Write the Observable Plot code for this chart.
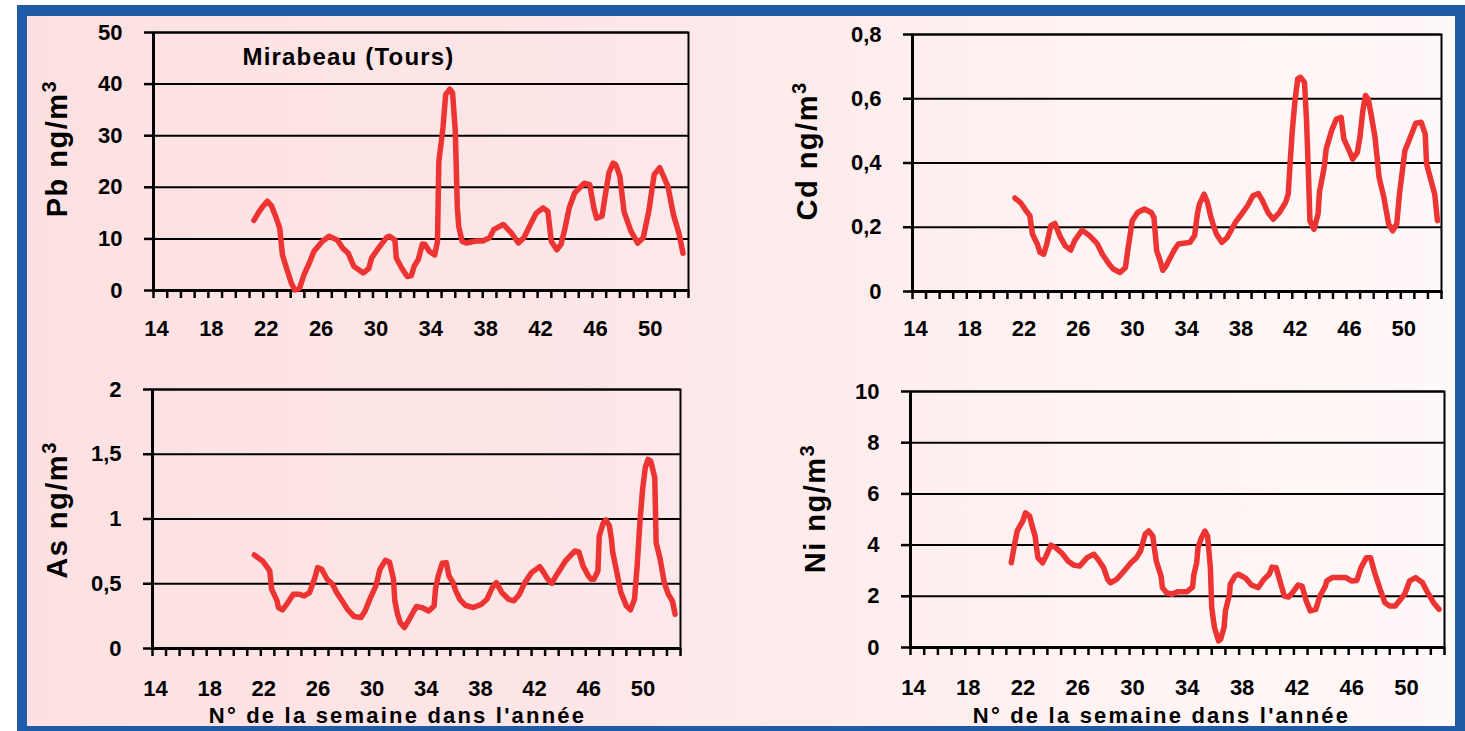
<!DOCTYPE html>
<html>
<head>
<meta charset="utf-8">
<script src="https://cdn.jsdelivr.net/npm/d3@7"></script>
<script src="https://cdn.jsdelivr.net/npm/@observablehq/plot@0.6"></script>
<style>
  html, body { margin: 0; padding: 0; background: #fff; overflow: hidden; }
  #page { position: relative; width: 1465px; height: 731px; overflow: hidden; background: #fff; }
  #frame { position: absolute; left: 17px; top: 5px; width: 1448px; height: 731px; box-sizing: border-box;
           border: 10px solid #1f5ba7; border-top-width: 11px;
           background: linear-gradient(to right, #fde1e2 0%, #fde6e7 40%, #fff3f3 75%, #fff8f8 100%); }
  .panel { position: absolute; }
</style>
</head>
<body>
<div id="page"><div id="frame"></div></div>
<script>
// ---------- data (week number, concentration) ----------
const weekTicks = [14, 18, 22, 26, 30, 34, 38, 42, 46, 50];

const pbWeeks = [21.32,21.7,21.97,22.3,22.6,22.9,23.2,23.4,23.7,24.05,
  24.3,24.65,24.96,25.4,25.7,26.3,26.8,27.4,27.8,28.2,
  28.6,29.3,29.7,29.9,30.4,31.0,31.2,31.6,31.7,32.1,
  32.5,32.8,33.0,33.3,33.6,33.8,34.1,34.5,34.7,34.8,
  35.1,35.3,35.6,35.8,36.0,36.15,36.25,36.5,36.8,37.5,
  38.0,38.5,38.8,39.5,40.1,40.6,41.0,41.4,41.9,42.4,
  42.75,43.0,43.4,43.7,44.0,44.3,44.7,45.4,45.8,46.1,
  46.3,46.7,46.9,47.2,47.5,47.7,48.0,48.3,48.8,49.3,
  49.7,50.1,50.5,50.9,51.5,51.9,52.3,52.6];
const pbValues = [13.6,15.3,16.3,17.3,16.4,14.4,12.1,6.9,4.3,1.4,
  0.1,0.45,3.0,5.6,7.6,9.5,10.5,9.8,8.2,7.2,
  4.7,3.4,4.3,6.3,8.2,10.3,10.5,9.8,6.3,4.3,
  2.7,2.9,4.7,6.0,9.0,8.9,7.6,6.9,9.5,25.0,
  31.5,38.0,39.0,38.3,30.9,16.0,12.4,9.5,9.2,9.6,
  9.6,10.2,11.8,12.8,11.1,9.2,10.2,12.4,15.0,16.0,
  15.3,9.5,7.9,8.9,12.1,16.0,18.9,20.8,20.5,16.0,
  14.0,14.4,17.9,22.8,24.7,24.4,22.1,15.3,11.5,9.2,
  10.2,15.3,22.5,23.8,20.2,14.7,11.1,7.2];

const cdWeeks = [21.55,21.96,22.38,22.65,22.84,23.2,23.4,23.67,23.9,24.2,
  24.5,24.85,25.26,25.67,25.95,26.5,27.05,27.6,28.0,28.5,
  28.8,29.3,29.7,29.9,30.2,30.6,31.1,31.6,31.8,32.0,
  32.3,32.45,32.7,32.95,33.3,33.6,34.45,34.8,35.0,35.15,
  35.5,35.75,36.0,36.4,36.8,37.2,37.8,38.3,38.7,39.1,
  39.5,39.8,40.2,40.6,41.05,41.5,41.7,41.85,42.0,42.2,
  42.4,42.6,42.9,43.05,43.2,43.3,43.6,43.9,44.0,44.35,
  44.5,44.9,45.25,45.6,45.8,46.2,46.45,46.8,47.0,47.2,
  47.4,47.6,47.85,48.1,48.4,48.75,49.1,49.4,49.7,49.9,
  50.3,50.7,51.1,51.5,51.8,51.9,52.5,52.7];
const cdValues = [0.291,0.277,0.251,0.236,0.179,0.148,0.122,0.116,0.148,0.205,
  0.212,0.174,0.142,0.129,0.158,0.191,0.174,0.150,0.116,0.085,
  0.070,0.059,0.075,0.137,0.220,0.246,0.257,0.246,0.231,0.127,
  0.090,0.066,0.080,0.101,0.129,0.148,0.153,0.174,0.241,0.272,
  0.303,0.277,0.231,0.179,0.153,0.168,0.215,0.243,0.267,0.298,
  0.305,0.283,0.246,0.225,0.246,0.277,0.303,0.407,0.501,0.594,
  0.662,0.667,0.651,0.532,0.355,0.220,0.194,0.241,0.309,0.386,
  0.444,0.501,0.537,0.542,0.475,0.438,0.412,0.433,0.485,0.563,
  0.610,0.599,0.542,0.480,0.355,0.293,0.210,0.189,0.210,0.303,
  0.438,0.480,0.524,0.527,0.490,0.397,0.303,0.220];

const asWeeks = [21.52,22.13,22.4,22.66,22.8,23.2,23.3,23.6,24.0,24.4,
  24.8,25.2,25.6,26.0,26.2,26.5,26.9,27.3,27.6,28.0,
  28.4,28.9,29.4,29.7,30.1,30.5,30.8,31.2,31.5,31.8,
  31.9,32.1,32.3,32.6,32.9,33.3,33.5,33.9,34.4,34.8,
  34.9,35.1,35.4,35.7,35.9,36.2,36.4,36.7,37.1,37.7,
  38.3,38.7,39.1,39.4,39.8,40.3,40.7,41.1,41.5,42.0,
  42.6,42.9,43.2,43.5,43.8,44.5,45.2,45.5,45.8,46.2,
  46.4,46.6,46.9,47.0,47.3,47.5,47.75,47.9,48.0,48.4,
  48.6,49.0,49.3,49.6,49.8,50.0,50.2,50.4,50.6,50.8,
  51.1,51.2,51.5,51.8,52.1,52.4,52.6];
const asValues = [0.722,0.676,0.638,0.599,0.458,0.368,0.316,0.298,0.355,0.419,
  0.419,0.406,0.432,0.548,0.625,0.612,0.535,0.496,0.432,0.368,
  0.303,0.247,0.239,0.290,0.393,0.483,0.612,0.681,0.668,0.535,
  0.368,0.265,0.200,0.162,0.213,0.290,0.324,0.316,0.290,0.329,
  0.458,0.560,0.658,0.663,0.560,0.509,0.445,0.380,0.334,0.316,
  0.342,0.380,0.470,0.509,0.432,0.380,0.368,0.419,0.509,0.586,
  0.632,0.586,0.535,0.504,0.560,0.676,0.753,0.746,0.638,0.560,
  0.535,0.535,0.599,0.869,0.972,0.992,0.946,0.843,0.740,0.535,
  0.432,0.329,0.298,0.380,0.638,0.972,1.229,1.396,1.460,1.447,
  1.319,0.817,0.689,0.509,0.419,0.368,0.265];

const niWeeks = [21.36,21.6,21.8,22.2,22.4,22.7,22.85,23.1,23.3,23.65,
  23.9,24.25,24.6,25.1,25.5,25.9,26.35,26.9,27.4,27.7,
  28.1,28.4,28.6,29.05,29.6,30.1,30.5,30.8,31.15,31.4,
  31.7,31.8,31.95,32.3,32.4,32.7,33.1,33.5,34.2,34.6,
  34.7,34.9,35.0,35.25,35.5,35.7,35.9,36.0,36.2,36.5,
  36.65,36.9,37.0,37.3,37.35,37.7,37.95,38.5,38.9,39.4,
  39.8,40.2,40.4,40.7,41.05,41.3,41.6,41.9,42.3,42.6,
  42.9,43.2,43.6,43.9,44.3,44.4,44.8,45.8,46.2,46.6,
  46.9,47.3,47.6,47.9,48.3,48.65,49.0,49.4,49.8,50.1,
  50.45,50.9,51.4,51.7,52.2,52.6];
const niValues = [3.31,4.03,4.57,4.94,5.26,5.13,4.81,4.35,3.51,3.31,
  3.57,4.0,3.9,3.66,3.38,3.22,3.18,3.51,3.64,3.44,
  3.12,2.66,2.53,2.66,2.99,3.31,3.51,3.77,4.44,4.55,
  4.35,3.90,3.38,2.79,2.34,2.14,2.08,2.18,2.18,2.36,
  2.86,3.31,3.90,4.29,4.55,4.35,3.12,1.56,0.78,0.26,
  0.32,0.78,1.43,2.08,2.47,2.79,2.86,2.70,2.44,2.34,
  2.66,2.86,3.14,3.12,2.47,2.01,1.97,2.14,2.44,2.40,
  1.82,1.43,1.49,2.01,2.40,2.60,2.73,2.73,2.60,2.62,
  3.12,3.51,3.51,2.92,2.27,1.75,1.62,1.62,1.88,2.10,
  2.60,2.73,2.53,2.21,1.75,1.49];

const pbTicks = [0, 10, 20, 30, 40, 50];
const cdTicks = [0, 0.2, 0.4, 0.6, 0.8];
const asTicks = [0, 0.5, 1, 1.5, 2];
const niTicks = [0, 2, 4, 6, 8, 10];

const stationTitle = "Mirabeau (Tours)";
const xTitle = "N° de la semaine dans l'année";

// ---------- drawing ----------
const page = document.getElementById("page");
const commaFmt = d => String(d).replace(".", ",");

function panel(cfg) {
  const [x0, y0, x1, y1] = cfg.box;
  const mL = 140, mT = 30, mR = 50, mB = 90;
  const data = cfg.weeks.map((w, i) => ({week: w, value: cfg.values[i]}));
  const ylabelText = cfg.element + " ng/m3";
  const marks = [
    Plot.ruleY(cfg.ticks, {stroke: "black", strokeWidth: 2}),
    Plot.frame({stroke: "black", strokeWidth: 2}),
    Plot.ruleX([14], {stroke: "black", strokeWidth: 3}),
    Plot.ruleY([0], {stroke: "black", strokeWidth: 3}),
    Plot.axisY({ticks: cfg.ticks, tickSize: 9, tickPadding: 22, tickFormat: commaFmt,
                strokeWidth: 2.5, label: null, fontSize: 22, fontWeight: "bold"}),
    Plot.axisX({ticks: d3.range(14, 54), tickSize: 8, tickFormat: () => "",
                strokeWidth: 2.5, label: null}),
    Plot.axisX({ticks: weekTicks, tickSize: 0, tickPadding: cfg.xPad, label: null,
                dx: 3, fontSize: 22, fontWeight: "bold"}),
    Plot.line(data, {x: "week", y: "value", stroke: "#ee3333", strokeWidth: 5.5,
                     strokeLinejoin: "round", strokeLinecap: "round"}),
    Plot.text([ylabelText], {frameAnchor: "left", rotate: -90, dx: cfg.ylabelX - x0,
                             dy: cfg.ylabelDy, textAnchor: "middle", lineAnchor: "middle",
                             fontSize: 29, fontWeight: "bold", fill: "black"})
  ];
  if (cfg.title) {
    marks.push(Plot.text([cfg.title], {frameAnchor: "top-left", dx: 348 - x0, dy: 57 - y0,
      textAnchor: "middle", lineAnchor: "middle", fontSize: 24, fontWeight: "bold", fill: "black"}));
  }
  if (cfg.xtitle) {
    marks.push(Plot.text([cfg.xtitle], {frameAnchor: "bottom", dx: cfg.xtitleDx, dy: 715 - y1,
      textAnchor: "middle", lineAnchor: "middle", fontSize: 22, fontWeight: "bold", fill: "black"}));
  }
  const svg = Plot.plot({
    width: x1 - x0 + mL + mR,
    height: y1 - y0 + mT + mB,
    marginLeft: mL, marginTop: mT, marginRight: mR, marginBottom: mB,
    x: {domain: [14, 53]},
    y: {domain: cfg.domain},
    style: {background: "transparent", fontFamily: "'Liberation Sans', Arial, sans-serif",
            fontWeight: "bold", fontSize: "22px", color: "black", overflow: "visible"},
    marks
  });
  svg.classList.add("panel");
  svg.style.left = (x0 - mL) + "px";
  svg.style.top = (y0 - mT) + "px";
  d3.select(svg).selectAll("text").each(function () {
    const t = this.textContent;
    if (t === cfg.title) this.setAttribute("letter-spacing", "1.2");
    if (t === cfg.xtitle) this.setAttribute("letter-spacing", "2.2");
    if (t === ylabelText) {
      // rebuild as "Xx ng/m" + superscript "3"
      this.setAttribute("letter-spacing", "1.5");
      this.textContent = "";
      const ns = "http://www.w3.org/2000/svg";
      const a = document.createElementNS(ns, "tspan");
      a.textContent = cfg.element + " ng/m";
      const b = document.createElementNS(ns, "tspan");
      b.textContent = "3";
      b.setAttribute("font-size", "20");
      b.setAttribute("dy", "-11");
      this.appendChild(a);
      this.appendChild(b);
    }
  });
  page.appendChild(svg);
}

panel({weeks: pbWeeks, values: pbValues, ticks: pbTicks, domain: [0, 50],
       element: "Pb", ylabelX: 57, ylabelDy: -13, box: [153, 32, 688, 290],
       xPad: 30, title: stationTitle});
panel({weeks: cdWeeks, values: cdValues, ticks: cdTicks, domain: [0, 0.8],
       element: "Cd", ylabelX: 807, ylabelDy: -12, box: [912, 34, 1441, 291],
       xPad: 29});
panel({weeks: asWeeks, values: asValues, ticks: asTicks, domain: [0, 2],
       element: "As", ylabelX: 57, ylabelDy: -9, box: [152, 389, 680, 648],
       xPad: 32, xtitle: xTitle, xtitleDx: -19});
panel({weeks: niWeeks, values: niValues, ticks: niTicks, domain: [0, 10],
       element: "Ni", ylabelX: 815, ylabelDy: -11, box: [910, 391, 1444, 647],
       xPad: 32, xtitle: xTitle, xtitleDx: -16});
</script>
</body>
</html>
